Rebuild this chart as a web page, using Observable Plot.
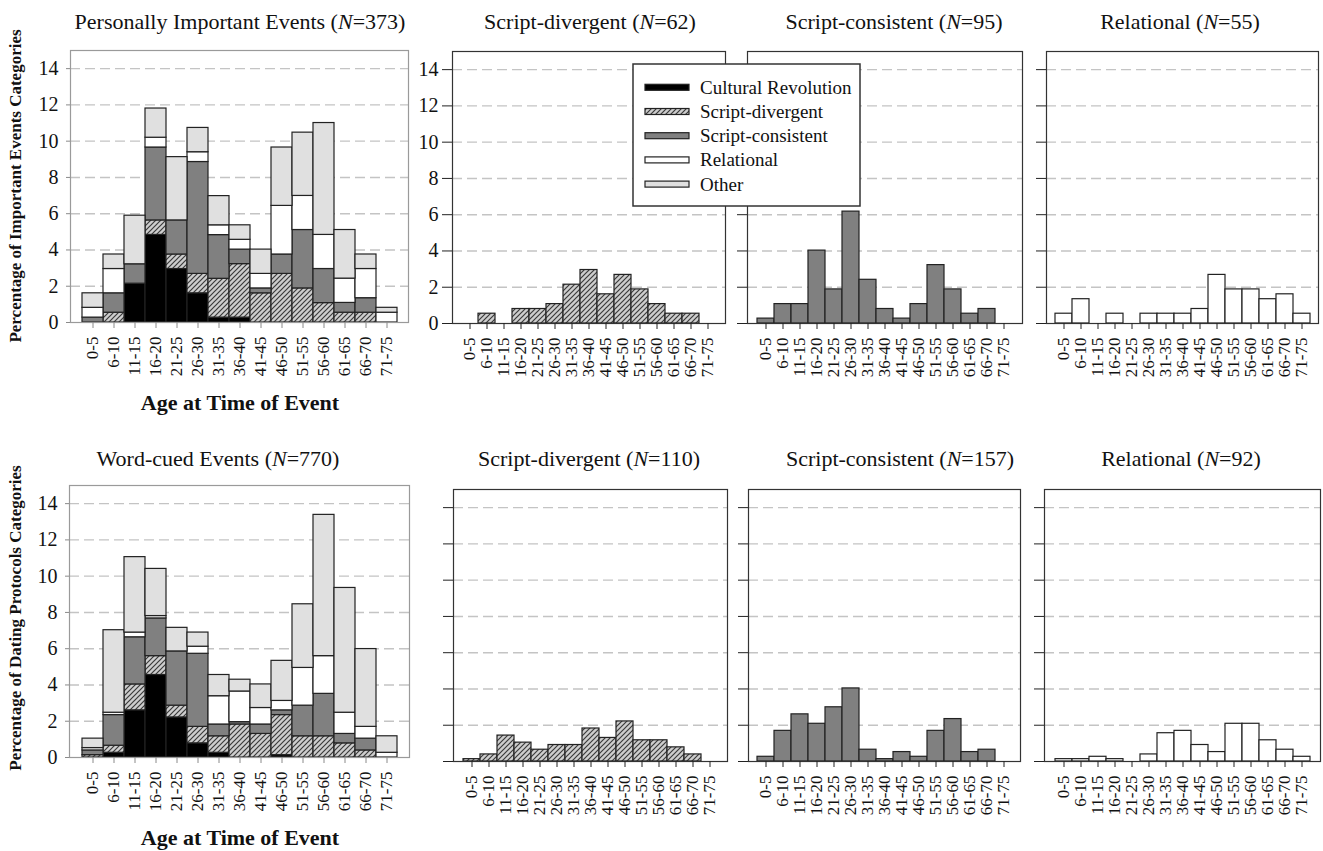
<!DOCTYPE html>
<html><head><meta charset="utf-8">
<script src="https://cdn.jsdelivr.net/npm/d3@7"></script>
<script src="https://cdn.jsdelivr.net/npm/@observablehq/plot@0.6"></script>
<style>
body{margin:0;background:#fff;}
#root{position:relative;width:1323px;height:851px;overflow:hidden;background:#fff;font-family:"Liberation Serif","Times New Roman",serif;}
#root svg{position:absolute;}
</style></head><body>
<svg width="0" height="0" style="position:absolute"><defs>
<pattern id="hatch" patternUnits="userSpaceOnUse" width="5" height="5">
<rect width="5" height="5" fill="#cdcdcd"/>
<path d="M-1,1 l2,-2 M0,5 l5,-5 M4,6 l2,-2" stroke="#3a3a3a" stroke-width="1.2"/>
</pattern></defs></svg>
<div id="root"></div>
<script>
// ---------- data ----------
const ages = ["0-5","6-10","11-15","16-20","21-25","26-30","31-35","36-40","41-45","46-50","51-55","56-60","61-65","66-70","71-75"];
const series = ["Cultural Revolution","Script-divergent","Script-consistent","Relational","Other"];
const seriesFill = ["#000000","url(#hatch)","#808080","#ffffff","#e0e0e0"];
const yTicks = [0,2,4,6,8,10,12,14];
const gridTicks = [2,4,6,8,10,12,14];

// Personally important events (percent of N=373)
const crTop    = [0,0,2.14,4.83,2.95,1.61,0.27,0.27,0,0,0,0,0,0,0];
const sdTop    = [0,0.54,0,0.80,0.80,1.07,2.14,2.95,1.61,2.68,1.88,1.07,0.54,0.54,0];
const scTop    = [0.27,1.07,1.07,4.02,1.88,6.17,2.41,0.80,0.27,1.07,3.22,1.88,0.54,0.80,0];
const relTop   = [0.54,1.34,0,0.54,0,0.54,0.54,0.54,0.80,2.68,1.88,1.88,1.34,1.61,0.54];
const otherTop = [0.80,0.80,2.68,1.61,3.49,1.34,1.61,0.80,1.34,3.22,3.49,6.17,2.68,0.80,0.27];

// Word-cued events (percent of N=770)
const crBot    = [0,0.26,2.60,4.55,2.21,0.78,0.26,0,0,0.13,0,0,0,0,0];
const sdBot    = [0.13,0.39,1.43,1.04,0.65,0.91,0.91,1.82,1.30,2.21,1.17,1.17,0.78,0.39,0];
const scBot    = [0.26,1.69,2.60,2.08,2.99,4.03,0.65,0.13,0.52,0.26,1.69,2.34,0.52,0.65,0];
const relBot   = [0.13,0.13,0.26,0.13,0,0.39,1.56,1.69,0.91,0.52,2.08,2.08,1.17,0.65,0.26];
const otherBot = [0.52,4.55,4.16,2.60,1.30,0.78,1.17,0.65,1.30,2.21,3.51,7.79,6.88,4.29,0.91];

const panels = [
  {title:"Personally Important Events", n:"373", cx:240, ty:29, left:70, right:408, top:50, bottom:322,
   data:[[0,crTop],[1,sdTop],[2,scTop],[3,relTop],[4,otherTop]], main:true, yLabels:true},
  {title:"Script-divergent", n:"62", cx:590, ty:29, left:452, right:725, top:51, bottom:323,
   data:[[1,sdTop]], yLabels:true},
  {title:"Script-consistent", n:"95", cx:894, ty:29, left:747, right:1022, top:51, bottom:323,
   data:[[2,scTop]], yLabels:false},
  {title:"Relational", n:"55", cx:1180, ty:29, left:1046, right:1318, top:51, bottom:323,
   data:[[3,relTop]], yLabels:false},
  {title:"Word-cued Events", n:"770", cx:218, ty:466, left:69, right:409, top:485, bottom:757,
   data:[[0,crBot],[1,sdBot],[2,scBot],[3,relBot],[4,otherBot]], main:true, yLabels:true},
  {title:"Script-divergent", n:"110", cx:589, ty:466, left:453, right:727, top:489, bottom:761,
   data:[[1,sdBot]], yLabels:false},
  {title:"Script-consistent", n:"157", cx:900, ty:466, left:748, right:1020, top:489, bottom:761,
   data:[[2,scBot]], yLabels:false},
  {title:"Relational", n:"92", cx:1181, ty:466, left:1044, right:1320, top:489, bottom:761,
   data:[[3,relBot]], yLabels:false}
];

const root = document.getElementById("root");
const FONT = "Liberation Serif, Times New Roman, serif";

function makePanel(p){
  const ml = 50, mr = 4, mt = 4, mb = 80;
  const W = p.right - p.left, H = p.bottom - p.top;
  const step = W / 16;
  const rows = [];
  p.data.forEach(([si, arr]) => arr.forEach((v, i) => {
    if (v > 0) rows.push({age: ages[i], cat: series[si], value: v});
  }));
  const tickCol = p.main ? "#8a8a8a" : "#222";
  const chart = Plot.plot({
    width: W + ml + mr, height: H + mt + mb,
    marginLeft: ml, marginRight: mr, marginTop: mt, marginBottom: mb,
    style: {background: "transparent", overflow: "visible", fontFamily: FONT, color: "#111"},
    x: {type: "band", domain: ages, range: [ml + step/2, ml + W - step/2], padding: 0, label: null},
    y: {domain: [0, 15], label: null},
    color: {type: "ordinal", domain: series, range: seriesFill},
    marks: [
      Plot.ruleY(gridTicks, {stroke: "#c4c4c4", strokeDasharray: "10,5", strokeWidth: 1.4}),
      Plot.barY(rows, {x: "age", y: "value", fill: "cat", stroke: "#222", strokeWidth: 1.2, order: series}),
      Plot.frame({stroke: p.main ? "#9a9a9a" : "#333", strokeWidth: 1.2}),
      Plot.axisX({tickRotate: -90, tickSize: 6, tickPadding: 8, fontSize: 17, stroke: tickCol, label: null}),
      Plot.axisY({ticks: yTicks, tickSize: p.main ? 4 : 10, tickPadding: p.main ? 8 : 4,
        fontSize: 20, stroke: tickCol, label: null,
        tickFormat: p.yLabels ? (d => String(d)) : (() => "")})
    ]
  });
  chart.style.left = (p.left - ml) + "px";
  chart.style.top = (p.top - mt) + "px";
  root.append(chart);
}
panels.forEach(makePanel);

// ---------- legend ----------
const leg = d3.select(root).append("svg")
  .attr("width", 230).attr("height", 146)
  .style("left", "632px").style("top", "63px");
leg.append("rect").attr("x", 1).attr("y", 1).attr("width", 227).attr("height", 142)
  .attr("fill", "#fff").attr("stroke", "#333").attr("stroke-width", 1.5);
series.forEach((s, i) => {
  const cy = 24.3 + i * 24.2;
  leg.append("rect").attr("x", 13).attr("y", cy - 3).attr("width", 44).attr("height", 6)
    .attr("fill", seriesFill[i]).attr("stroke", "#222").attr("stroke-width", 1.2);
  leg.append("text").attr("x", 68).attr("y", cy + 6.5)
    .attr("font-family", FONT).attr("font-size", 19).attr("fill", "#111").text(s);
});

// ---------- titles & axis labels ----------
const ov = d3.select(root).append("svg")
  .attr("width", 1323).attr("height", 851)
  .style("left", "0px").style("top", "0px").style("pointer-events", "none")
  .attr("font-family", FONT).attr("fill", "#111");
panels.forEach(p => {
  const t = ov.append("text").attr("x", p.cx).attr("y", p.ty)
    .attr("text-anchor", "middle").attr("font-size", 22);
  t.append("tspan").text(p.title + " (");
  t.append("tspan").attr("font-style", "italic").text("N");
  t.append("tspan").text("=" + p.n + ")");
});
[[410, 240], [845, 240]].forEach(([y, x]) => {
  ov.append("text").attr("x", x).attr("y", y).attr("text-anchor", "middle")
    .attr("font-size", 22).attr("font-weight", "bold").text("Age at Time of Event");
});
[["Percentage of Important Events Categories", 186], ["Percentage of Dating Protocols Categories", 618]].forEach(([s, cy]) => {
  ov.append("text").attr("transform", `translate(21,${cy}) rotate(-90)`)
    .attr("text-anchor", "middle").attr("font-size", 17).attr("font-weight", "bold").text(s);
});
</script>
</body></html>
